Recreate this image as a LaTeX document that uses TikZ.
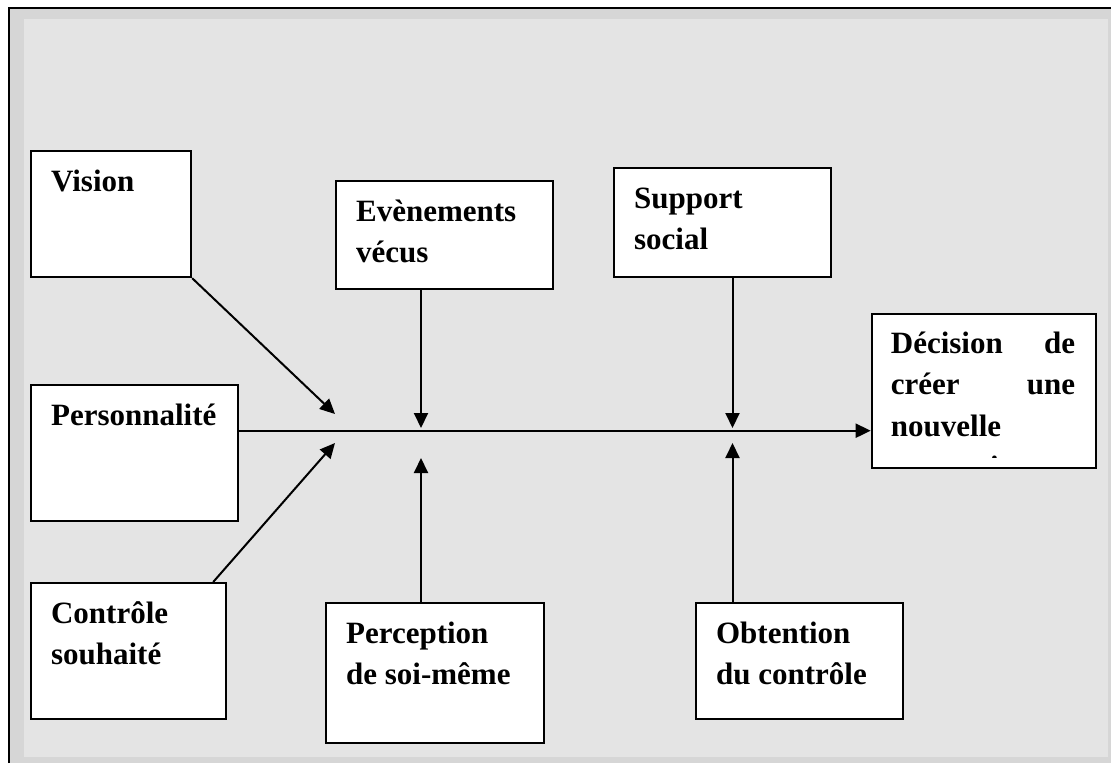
\documentclass[tikz,border=0pt]{standalone}
\usepackage{fontspec}
\setmainfont{Liberation Serif}
\usetikzlibrary{arrows.meta}

\definecolor{framefill}{RGB}{228,228,228}
\definecolor{frameband}{RGB}{214,214,214}

\tikzset{
  factor/.style={draw, fill=white, line width=2.2pt, inner xsep=20pt,
    inner ysep=0pt, anchor=north west,
    font=\fontsize{31}{41.5}\selectfont\bfseries},
  link/.style={line width=2pt, -{Triangle[length=15pt,width=14pt]}},
}
\newcommand{\boxtext}[3]{\parbox[t][#2][t]{#1}{\raggedright\rule{0pt}{40pt}#3}}

\begin{document}
\begin{tikzpicture}[x=1pt, y=-1pt]
  \useasboundingbox (0,0) rectangle (1111,763);
  % frame
  \fill[white] (0,0) rectangle (1111,763);
  \fill[frameband] (9,8) rectangle (1111,763);
  \fill[framefill] (24,19) rectangle (1108,757);
  \draw[line width=2pt] (9,763) -- (9,8) -- (1111,8);

  % factors
  \node[factor] (vision) at (30,150) {\boxtext{120pt}{126pt}{Vision}};
  \node[factor] (perso) at (30,384) {\boxtext{166.7pt}{136pt}{Personnalité}};
  \node[factor] (controle) at (30,582) {\boxtext{155pt}{136pt}{Contrôle\\souhaité}};
  \node[factor] (evenements) at (335,180) {\boxtext{176.7pt}{108pt}{Evènements\\vécus}};
  \node[factor] (perception) at (325,602) {\boxtext{178pt}{140pt}{Perception\\de soi-même}};
  \node[factor] (support) at (613,167) {\boxtext{177pt}{109pt}{Support\\social}};
  \node[factor] (obtention) at (695,602) {\boxtext{166.7pt}{115.7pt}{Obtention\\du contrôle}};
  \node[factor] (decision) at (870.7,313) {\boxtext{184.3pt}{154pt}{}};
  \begin{scope}
    \clip (decision.north west) rectangle (1095,457);
    \node[anchor=north west, inner xsep=20pt, inner ysep=0pt,
      font=\fontsize{31}{41.5}\selectfont\bfseries] (decisiontext) at (decision.north west)
      {\parbox[t]{184.3pt}{\rule{0pt}{40pt}Décision\hfill de\\ créer\hfill une\\ nouvelle\\ entreprise}};
  \end{scope}

  % meeting points on the axis
  \coordinate (vtip) at (335,414);
  \coordinate (ctip) at (335,443);
  \coordinate (etip) at (421,428);
  \coordinate (ptip) at (421,458);
  \coordinate (stip) at (732.5,428);
  \coordinate (otip) at (732.5,443);

  % links
  \draw[link] (perso.east |- 0,430.7) -- (decision.west |- 0,430.7);
  \draw[link] (vision.south east) -- (vtip);
  \draw[link] ([xshift=-14pt]controle.north east) -- (ctip);
  \draw[link] (evenements.south -| etip) -- (etip);
  \draw[link] (perception.north -| ptip) -- (ptip);
  \draw[link] (support.south -| stip) -- (stip);
  \draw[link] (obtention.north -| otip) -- (otip);
\end{tikzpicture}
\end{document}
